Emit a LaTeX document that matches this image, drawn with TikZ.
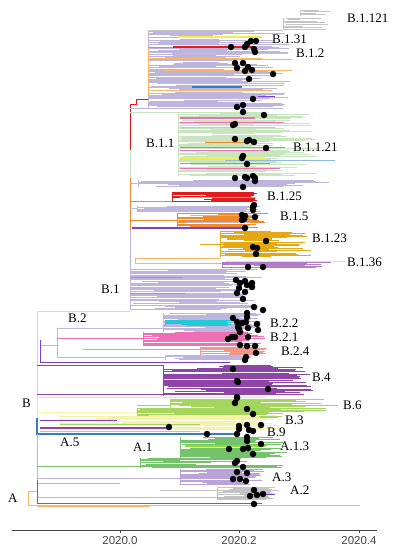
\documentclass[tikz,border=0pt]{standalone}
\usepackage{fontspec}
\setmainfont{Liberation Serif}
\setsansfont{Liberation Sans}
\usetikzlibrary{positioning}
\usepackage{xcolor}
\definecolor{lav}{HTML}{BDB5DD}
\definecolor{lgreen}{HTML}{C9E5BF}
\definecolor{orng}{HTML}{F08A2A}
\definecolor{lorng}{HTML}{FDB462}
\definecolor{red1}{HTML}{E31A1C}
\definecolor{yel}{HTML}{F2EE4A}
\definecolor{blue1}{HTML}{3B78C9}
\definecolor{lblue}{HTML}{8DB8E8}
\definecolor{violet1}{HTML}{7A3FD4}
\definecolor{pink}{HTML}{EE6FB5}
\definecolor{gold}{HTML}{E5A812}
\definecolor{purp}{HTML}{B07CC6}
\definecolor{cyan1}{HTML}{1ECBD6}
\definecolor{salmon}{HTML}{F4958A}
\definecolor{dpurp}{HTML}{8E44A8}
\definecolor{ygreen}{HTML}{A4D65E}
\definecolor{pyel}{HTML}{F6F3A6}
\definecolor{agreen}{HTML}{74C36A}
\definecolor{brgreen}{HTML}{8BE02A}
\definecolor{apurp}{HTML}{B9A3D8}
\definecolor{grayc}{HTML}{C4C4C4}
\definecolor{axisgray}{HTML}{444444}

% one clade: colour, stem x, top y, bottom y, spacing, shortest tip, longest tip
\newcommand{\band}[7]{%
  \draw[br,#1] (#2,#3) -- (#2,#4);
  \pgfmathsetmacro\bandn{int((#4-#3)/#5)}
  \foreach \k in {0,...,\bandn}{
    \pgfmathsetmacro\yy{#3+\k*#5}
    \pgfmathsetmacro\xs{#2+(rnd>0.6)*rnd*(#6-#2)*0.6}
    \pgfmathsetmacro\xe{#6+rnd*(#7-#6)}
    \draw[br,#1] (\xs,\yy) -- (\xe,\yy);
  }}

\begin{document}
\begin{tikzpicture}[x=1pt,y=-1pt,
  lbl/.style={font=\fontsize{13}{15}\selectfont,anchor=west,inner sep=0pt},
  tick/.style={font=\sffamily\fontsize{11.5}{13}\selectfont,text=axisgray,anchor=north,inner sep=0pt},
  sample/.style={circle,fill=black,inner sep=0pt,minimum size=6.5pt},
  br/.style={line width=0.9pt},
  thick br/.style={line width=1.5pt},
]
  \useasboundingbox (0,0) rectangle (392,550);
  \pgfmathsetseed{17}

  % B.1.121 and upper B.1
  \draw[br,grayc] (148,30) -- (283,30);
  \band{grayc}{283}{18}{30}{1.6}{298}{333}
  \band{grayc}{300}{10}{16}{1.6}{316}{333}
  \band{lav}{148}{31}{109}{1.15}{212}{292}
  \draw[thick br,yel] (178,37) -- (262,37);
  \draw[br,orng] (148,47) -- (173,47);
  \draw[thick br,red1] (173,47) -- (255,47);
  \draw[br,lorng] (172,53) -- (288,53);
  \draw[br,lorng] (150,58) -- (262,58);
  \draw[br,lorng] (163,70) -- (292,70);
  \draw[br,lorng] (157,83) -- (285,83);
  \draw[br,lorng] (150,90) -- (272,90);
  \draw[thick br,blue1] (192,87) -- (242,87);
  \draw[br,violet1] (258,96) -- (275,96);
  \draw[br,lorng] (148,50) -- (148,95);
  \draw[br,red1] (130,150) -- (130,104) -- (136,104) -- (136,99) -- (148,99);
  \draw[br,lav] (130,108) -- (215,108);

  % B.1.1
  \draw[br,lgreen] (130,112) -- (178,112);
  \band{lgreen}{178}{112}{176}{1.15}{250}{320}
  \draw[thick br,pink] (180,118) -- (255,118);
  \draw[br,pink] (180,122) -- (284,122);
  \draw[br,grayc] (180,127) -- (275,127);
  \draw[br,orng] (205,142) -- (252,142);
  \draw[br,pink] (180,147) -- (285,147);
  \draw[br,pink] (180,150) -- (270,150);
  \draw[thick br,yel] (180,158) -- (265,158);
  \draw[br,lblue] (225,160) -- (335,160);
  \draw[br,pink] (180,163) -- (270,163);
  \draw[br,pink] (180,168) -- (280,168);
  \draw[br,lgreen] (130,150) -- (130,178);

  % B.1.25, B.1.5, B.1.23, B.1.36
  \draw[br,orng] (130,178) -- (130,230);
  \draw[br,lav] (130,183) -- (138,183);
  \band{lav}{138}{180}{187}{1.1}{255}{342}
  \draw[br,orng] (130,201) -- (172,201);
  \band{red1}{172}{192}{202}{1.1}{250}{258}
  \draw[br,lav] (180,197) -- (256,197);
  \draw[br,lav] (130,208) -- (137,208);
  \band{lav}{137}{206}{212}{1.1}{245}{262}
  \draw[br,orng] (130,220) -- (177,220);
  \band{orng}{177}{213}{228}{1.1}{245}{270}
  \draw[br,lav] (190,215) -- (260,215);
  \draw[br,lav] (185,222) -- (250,222);
  \draw[thick br,violet1] (132,228) -- (245,228);
  \draw[br,lav] (130,230) -- (130,310);
  \draw[br,gold] (200,244) -- (220,244);
  \band{gold}{220}{231}{257}{1.1}{262}{312}
  \draw[br,lorng] (135,258) -- (220,258);
  \draw[br,lorng] (135,258) -- (135,263) -- (222,263);
  \band{purp}{222}{262}{268}{1.1}{300}{335}
  \draw[br,yel] (225,261) -- (345,261);

  % lower B.1
  \band{lav}{130}{269}{310}{1.2}{215}{265}
  \draw[br,orng] (130,277) -- (182,277);
  \draw[br,orng] (130,293) -- (185,293);
  \draw[br,lgreen] (37,311) -- (130,311);

  % B.2
  \draw[br,lgreen] (37,311) -- (37,395);
  \draw[br,lav] (40,345) -- (57,345);
  \draw[br,lav] (57,328) -- (57,358);
  \draw[br,lav] (57,328) -- (163,328);
  \band{lav}{163}{313}{332}{1.1}{238}{262}
  \band{cyan1}{165}{320}{326}{1.1}{226}{235}
  \draw[br,pink] (57,338) -- (143,338);
  \band{pink}{143}{332}{346}{1.1}{240}{265}
  \draw[br,salmon] (83,349) -- (200,349);
  \band{salmon}{200}{347}{355}{1.1}{255}{268}
  \draw[br,lav] (57,357) -- (165,357);
  \band{lav}{165}{355}{360}{1.1}{238}{252}
  \draw[br,violet1] (40,340) -- (40,362) -- (230,362);

  % B.4
  \draw[br,dpurp] (37,365) -- (163,365);
  \band{dpurp}{163}{365}{396}{1.15}{265}{315}

  % B, B.6, B.3, B.9
  \draw[br,dpurp] (37,394) -- (163,394);
  \draw[br,yel] (37,397) -- (265,397);
  \draw[br,yel] (37,395) -- (37,420);
  \draw[br,ygreen] (137,405) -- (170,405);
  \band{ygreen}{170}{399}{412}{1.1}{255}{340}
  \draw[br,pyel] (37,412) -- (137,412);
  \band{ygreen}{137}{408}{418}{1.1}{250}{285}
  \band{pyel}{60}{415}{430}{1.2}{255}{280}
  \draw[br,violet1] (40,420) -- (117,420);
  \draw[br,ygreen] (60,424) -- (200,424);
  \draw[thick br,dpurp] (40,428) -- (168,428);
  \draw[br,lorng] (40,431) -- (200,431);
  \draw[thick br,blue1] (37,418) -- (37,434) -- (235,434);

  % A.1, A.3
  \draw[br,lav] (37,434) -- (37,480);
  \draw[br,agreen] (37,466) -- (140,466);
  \draw[br,agreen] (140,458) -- (140,468);
  \band{agreen}{140}{458}{468}{1.2}{180}{290}
  \band{agreen}{180}{437}{459}{1.1}{245}{290}
  \draw[thick br,brgreen] (185,446) -- (265,446);
  \draw[br,lav] (37,478) -- (180,478);
  \band{apurp}{180}{469}{485}{1.1}{238}{265}
  \draw[br,lav] (37,483) -- (120,483);

  % A.2 and root
  \draw[br,grayc] (160,490) -- (217,490);
  \band{grayc}{217}{487}{500}{1.1}{265}{280}
  \draw[br,violet1] (250,494) -- (275,494);
  \draw[br,lav] (37,497) -- (270,497);
  \draw[br,blue1] (37,480) -- (37,503) -- (262,503);
  \draw[br,lorng] (37,491) -- (28,491) -- (28,505) -- (360,505);
  \draw[thick br,lorng] (37,506) -- (150,506);

  % sampled genomes
  \foreach \p [count=\i] in {
    (231,47),(245,47),(247,44),(251,41),(256,41),(254,49),(255,52),(235,63),
    (243,63),(237,68),(245,71),(252,70),(248,67),(273,74),(249,79),(253,99),
    (237,107),(243,105),(243,112),(264,115),(235,124),(233,125),
    (235,139),(247,141),(249,140),(254,142),(266,148),(243,156),(242,158),
    (247,164),(235,178),(245,177),(247,178),(253,176),(255,178),(255,181),
    (243,187),(254,205),(253,207),(253,210),(242,215),(245,216),(255,217),
    (242,220),(244,219),(245,228),(266,241),(253,247),(257,248),(256,254),
    (248,267),(263,267),(236,280),(240,283),(245,281),(252,283),(247,285),
    (252,287),(239,288),(237,293),(245,292),(243,299),(254,307),(263,310),
    (247,313),(233,318),(247,317),(237,322),(242,323),(257,324),(246,322),
    (238,327),(248,328),(258,330),(240,332),(239,329),(232,337),(228,339),
    (235,337),(248,337),(240,345),(247,346),(255,346),(256,353),(246,357),
    (245,360),(233,369),(238,382),(237,381),(268,389),(237,397),
    (237,398),(235,403),(247,409),(253,414),(169,427),(207,434),(239,426),
    (247,425),(261,425),(239,429),(249,430),(253,431),(237,434),(247,437),
    (247,441),(261,444),(229,449),(243,449),(248,448),(253,454),(237,461),
    (235,463),(237,472),(243,467),(247,473),(233,479),(240,479),(246,481),
    (254,490),(250,496),(257,495),(263,494),(254,504)}
    \node[sample] (g\i) at \p {};

  % clade labels
  \node[lbl] (b1121) at (347,18) {B.1.121};
  \node[lbl] (b131) at (272,39) {B.1.31};
  \node[lbl] (b12) at (296,53) {B.1.2};
  \node[lbl] (b11) at (146,143) {B.1.1};
  \node[lbl] (b1121b) at (293,147) {B.1.1.21};
  \node[lbl] (b125) at (267,196) {B.1.25};
  \node[lbl] (b15) at (280,216) {B.1.5};
  \node[lbl] (b123) at (312,238) {B.1.23};
  \node[lbl] (b136) at (347,262) {B.1.36};
  \node[lbl] (b1) at (101,289) {B.1};
  \node[lbl] (b2) at (68,318) {B.2};
  \node[lbl] (b22) at (270,323) {B.2.2};
  \node[lbl] (b21) at (270,337) {B.2.1};
  \node[lbl] (b24) at (281,351) {B.2.4};
  \node[lbl] (b4) at (312,377) {B.4};
  \node[lbl] (b) at (22,403) {B};
  \node[lbl] (b6) at (343,405) {B.6};
  \node[lbl] (b3) at (285,420) {B.3};
  \node[lbl] (b9) at (267,432) {B.9};
  \node[lbl] (a5) at (60,442) {A.5};
  \node[lbl] (a1) at (133,447) {A.1};
  \node[lbl] (a13) at (280,446) {A.1.3};
  \node[lbl] (a3) at (272,477) {A.3};
  \node[lbl] (a2) at (290,490) {A.2};
  \node[lbl] (a) at (8,498) {A};

  % time axis
  \draw[line width=0.9pt,axisgray] (12,530) -- (377,530);
  \foreach \x/\yr [count=\i] in {120/2020.0,239/2020.2,359/2020.4}{
    \draw[line width=0.7pt,axisgray] (\x,530) -- (\x,533);
    \node[tick] (t\i) at (\x,536) {\yr};
  }
\end{tikzpicture}
\end{document}
